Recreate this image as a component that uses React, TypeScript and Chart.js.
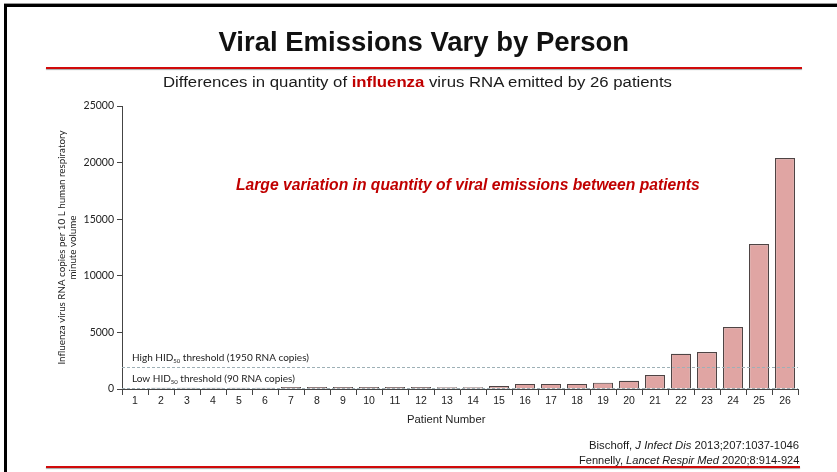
import React, { useEffect, useLayoutEffect, useRef, useState } from "react";
import { Chart, registerables } from "chart.js";

Chart.register(...registerables);

// ---------- data ----------
const patients = [
  "1", "2", "3", "4", "5", "6", "7", "8", "9", "10", "11", "12", "13",
  "14", "15", "16", "17", "18", "19", "20", "21", "22", "23", "24", "25", "26",
];
const rnaCopies = [
  20, 100, 100, 100, 100, 100, 170, 170, 170, 170, 170, 170, 160,
  160, 260, 450, 450, 450, 560, 720, 1230, 3120, 3270, 5480, 12800, 20400,
];
const yMin = 0;
const yMax = 25000;
const yStep = 5000;
const thresholdValues = [1950, 90];
const thresholdPrefix = ["High HID", "Low HID"];
const thresholdSub = ["50", "50"];
const thresholdSuffix = [" threshold (1950 RNA copies)", " threshold (90 RNA copies)"];
const yAxisTitle = ["Influenza virus RNA copies per 10 L human respiratory", "minute volume"];
const xAxisTitle = "Patient Number";
const titleText = "Viral Emissions Vary by Person";
const annotationText = "Large variation in quantity of viral emissions between patients";

// ---------- helpers ----------
type Align = "left" | "center" | "right";

function FitText(props: {
  x: number;
  y: number;
  width: number;
  align?: Align;
  font: string;
  size: number;
  color?: string;
  children: React.ReactNode;
}) {
  const { x, y, width, align = "center", font, size, color = "#111", children } = props;
  const ref = useRef<HTMLSpanElement>(null);
  const [sx, setSx] = useState(1);
  useLayoutEffect(() => {
    const el = ref.current;
    if (!el) return;
    const w = el.offsetWidth;
    if (w > 0) setSx(width / w);
  }, [width]);
  let left = x;
  const boxW = 1200;
  if (align === "center") left = x - boxW / 2;
  else if (align === "right") left = x - boxW;
  return (
    <div
      style={{
        position: "absolute",
        left,
        top: y,
        width: boxW,
        textAlign: align,
        font,
        fontSize: size,
        lineHeight: 1,
        color,
        whiteSpace: "nowrap",
      }}
    >
      <span
        ref={ref}
        style={{
          display: "inline-block",
          transform: `scaleX(${sx})`,
          transformOrigin: align === "center" ? "50% 50%" : align === "right" ? "100% 50%" : "0% 50%",
        }}
      >
        {children}
      </span>
    </div>
  );
}

const thresholdPlugin = {
  id: "thresholds",
  afterDatasetsDraw(chart: any) {
    const { ctx, chartArea } = chart;
    const y = chart.scales.y;
    ctx.save();
    ctx.strokeStyle = "#9eb0b6";
    ctx.lineWidth = 1;
    ctx.setLineDash([3, 2]);
    thresholdValues.forEach((v) => {
      const py = Math.round(y.getPixelForValue(v)) + 0.5;
      ctx.beginPath();
      ctx.moveTo(chartArea.left, py);
      ctx.lineTo(chartArea.right, py);
      ctx.stroke();
    });
    ctx.setLineDash([]);
    ctx.fillStyle = "#222";
    ctx.textBaseline = "alphabetic";
    ctx.textAlign = "left";
    thresholdValues.forEach((v, i) => {
      const base = y.getPixelForValue(v) - 6;
      let px = chartArea.left + 10;
      ctx.font = "10px Lato";
      ctx.fillText(thresholdPrefix[i], px, base);
      px += ctx.measureText(thresholdPrefix[i]).width;
      ctx.font = "6px Lato";
      ctx.fillText(thresholdSub[i], px, base + 2.5);
      px += ctx.measureText(thresholdSub[i]).width;
      ctx.font = "10px Lato";
      ctx.fillText(thresholdSuffix[i], px, base);
    });
    ctx.restore();
  },
};

function ViralChart() {
  const canvasRef = useRef<HTMLCanvasElement>(null);
  useEffect(() => {
    const canvas = canvasRef.current;
    if (!canvas) return;
    const chart = new Chart(canvas, {
      type: "bar",
      data: {
        labels: patients,
        datasets: [
          {
            data: rnaCopies,
            backgroundColor: "#e0a5a3",
            borderColor: "#4e4444",
            borderWidth: 1.2,
            barPercentage: 0.77,
            categoryPercentage: 1,
          },
        ],
      },
      options: {
        animation: false,
        responsive: false,
        devicePixelRatio: 1,
        layout: { padding: { left: 0, right: 39, top: 106, bottom: 43 } },
        plugins: { legend: { display: false }, tooltip: { enabled: false }, title: { display: false } },
        scales: {
          x: {
            offset: true,
            grid: {
              display: true,
              offset: true,
              drawOnChartArea: false,
              drawTicks: true,
              tickLength: 6,
              color: "#444",
            },
            border: { display: true, color: "#444", width: 1 },
            ticks: {
              color: "#222",
              font: { family: "Liberation Sans", size: 10.5 },
              padding: 0,
              maxRotation: 0,
              autoSkip: false,
            },
            afterFit: (s: any) => {
              s.height = 40;
            },
          },
          y: {
            min: yMin,
            max: yMax,
            ticks: {
              stepSize: yStep,
              color: "#222",
              padding: 3,
              font: { family: "Lato", size: 10.5 },
              callback: (v: any) => String(v),
            },
            grid: {
              display: true,
              drawOnChartArea: false,
              drawTicks: true,
              tickLength: 5,
              color: "#444",
            },
            border: { display: true, color: "#444", width: 1 },
            title: {
              display: true,
              text: yAxisTitle,
              color: "#222",
              font: { family: "Lato", size: 9.8, lineHeight: 1.05 },
              padding: { top: 57, bottom: 0 },
            },
            afterFit: (s: any) => {
              s.width = 122;
            },
          },
        },
      },
      plugins: [thresholdPlugin],
    } as any);
    return () => chart.destroy();
  }, []);
  return (
    <canvas
      ref={canvasRef}
      width={837}
      height={472}
      style={{ position: "absolute", left: 0, top: 0, width: 837, height: 472, display: "block" }}
    />
  );
}

export default function App() {
  return (
    <div
      style={{
        position: "fixed",
        left: 0,
        top: 0,
        width: 837,
        height: 472,
        overflow: "hidden",
        background: "#fff",
      }}
    >
      {/* frame */}
      <div style={{ position: "absolute", left: 4, top: 3, width: 833, height: 1, background: "#999" }} />
      <div style={{ position: "absolute", left: 4, top: 4, width: 833, height: 3, background: "#000" }} />
      <div style={{ position: "absolute", left: 4, top: 4, width: 3, height: 468, background: "#000" }} />
      {/* red rules */}
      <div style={{ position: "absolute", left: 46, top: 67, width: 756, height: 2, background: "#d10a0a", boxShadow: "0 1px 1px rgba(0,0,0,0.35)" }} />
      <div style={{ position: "absolute", left: 46, top: 466, width: 754, height: 2, background: "#d10a0a", boxShadow: "0 1px 1px rgba(0,0,0,0.35)" }} />

      <ViralChart />

      <FitText x={423.5} y={27} width={411} font="bold 28.5px 'Liberation Sans'" size={28.5} color="#111">
        {titleText}
      </FitText>
      <FitText x={417.5} y={74} width={509} font="15.5px 'Liberation Sans'" size={15.5} color="#1a1a1a">
        Differences in quantity of <span style={{ color: "#c00000", fontWeight: "bold" }}>influenza</span> virus RNA emitted by 26 patients
      </FitText>
      <FitText x={236} y={176} width={464} align="left" font="italic bold 16.5px 'Liberation Sans'" size={16.5} color="#c00000">
        {annotationText}
      </FitText>
      <FitText x={446} y={414} width={78} font="11px 'Liberation Sans'" size={11} color="#222">
        {xAxisTitle}
      </FitText>
      <FitText x={799} y={440} width={210} align="right" font="11px 'Liberation Sans'" size={11} color="#1a1a1a">
        Bischoff, <i>J Infect Dis</i> 2013;207:1037-1046
      </FitText>
      <FitText x={799} y={455} width={220} align="right" font="11px 'Liberation Sans'" size={11} color="#1a1a1a">
        Fennelly, <i>Lancet Respir Med</i> 2020;8:914-924
      </FitText>
    </div>
  );
}
